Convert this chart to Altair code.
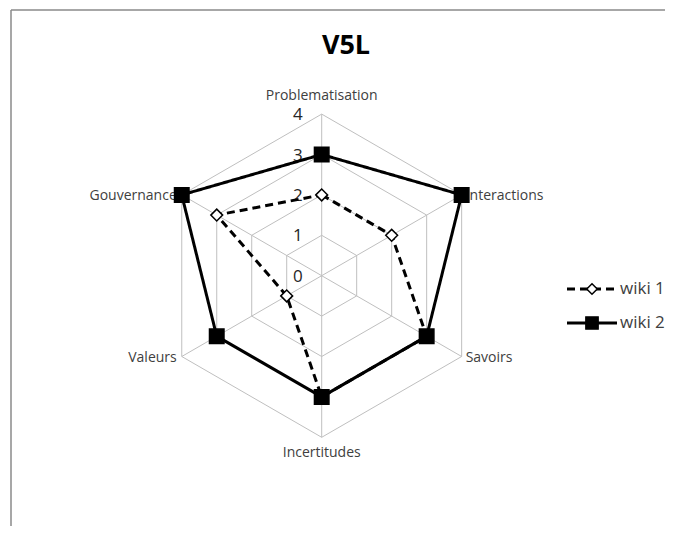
import math
import pandas as pd
import altair as alt

# ---------------- data ----------------
title_text = "V5L"
categories = ["Problematisation", "Interactions", "Savoirs",
              "Incertitudes", "Valeurs", "Gouvernance"]
series_names = ["wiki 1", "wiki 2"]
wiki1 = [2, 2, 3, 3, 1, 3]
wiki2 = [3, 4, 3, 3, 3, 4]
tick_levels = [0, 1, 2, 3, 4]
r_max = 4

# ---------------- geometry / style ----------------
W, H = 657, 518            # plot area (page offset 8px, padding 0)
CX, CY = 313.7, 267.7      # radar centre, in view pixels
UNIT = 40.4                # pixels per value unit
FONT = "Open Sans"
TXT = "#404040"
GRID = "#bfbfbf"

n = len(categories)
angles = [2 * math.pi * i / n for i in range(n)]

xs = alt.Scale(domain=[-CX / UNIT, (W - CX) / UNIT], nice=False, zero=False)
ys = alt.Scale(domain=[-(H - CY) / UNIT, CY / UNIT], nice=False, zero=False)


def X(field="x"):
    return alt.X(f"{field}:Q", scale=xs, axis=None)


def Y(field="y"):
    return alt.Y(f"{field}:Q", scale=ys, axis=None)


# grid rings
ring_rows = []
for lv in tick_levels[1:]:
    for i in range(n + 1):
        k = i % n
        ring_rows.append(dict(level=lv, order=i,
                              x=lv * math.sin(angles[k]), y=lv * math.cos(angles[k])))
rings = pd.DataFrame(ring_rows)

spokes = pd.DataFrame([dict(cat=c, x=0.0, y=0.0,
                            x2=r_max * math.sin(a), y2=r_max * math.cos(a))
                       for c, a in zip(categories, angles)])

ticks = pd.DataFrame(dict(label=[str(v) for v in tick_levels],
                          x=[0.0] * len(tick_levels), y=tick_levels))

lab = pd.DataFrame(dict(cat=categories,
                        x=[r_max * math.sin(a) for a in angles],
                        y=[r_max * math.cos(a) for a in angles],
                        s=[math.sin(a) for a in angles],
                        c=[math.cos(a) for a in angles]))

ring_layer = alt.Chart(rings).mark_line(color=GRID, strokeWidth=1).encode(
    x=X(), y=Y(), detail="level:N", order="order:Q")
spoke_layer = alt.Chart(spokes).mark_rule(color=GRID, strokeWidth=1).encode(
    x=X(), y=Y(), x2="x2:Q", y2="y2:Q")
tick_layer = alt.Chart(ticks).mark_text(
    align="right", baseline="middle", dx=-19, dy=1, font=FONT, fontSize=17, color="#262626"
).encode(x=X(), y=Y(), text="label:N")

lab_top = alt.Chart(lab[lab.c > 0.9]).mark_text(
    align="center", baseline="middle", dy=-18, font=FONT, fontSize=14, color=TXT
).encode(x=X(), y=Y(), text="cat:N")
lab_bot = alt.Chart(lab[lab.c < -0.9]).mark_text(
    align="center", baseline="middle", dy=16, font=FONT, fontSize=14, color=TXT
).encode(x=X(), y=Y(), text="cat:N")
lab_right = alt.Chart(lab[lab.s > 0.5]).mark_text(
    align="left", baseline="middle", dx=4, dy=1, font=FONT, fontSize=14, color=TXT
).encode(x=X(), y=Y(), text="cat:N")
lab_left = alt.Chart(lab[lab.s < -0.5]).mark_text(
    align="right", baseline="middle", dx=-5, dy=1, font=FONT, fontSize=14, color=TXT
).encode(x=X(), y=Y(), text="cat:N")

# series
styles = {
    "wiki 1": dict(dash=[8, 5], shape="diamond", fill="white", size=140, lsize=110),
    "wiki 2": dict(dash=[1, 0], shape="square", fill="black", size=210, lsize=150),
}

series_layers = []
point_layers = []
legend_layers = []
LEG_Y = [289 - 8, 323 - 8]
for idx, (name, vals) in enumerate(zip(series_names, [wiki1, wiki2])):
    st = styles[name]
    rows = []
    for i in range(n + 1):
        k = i % n
        rows.append(dict(series=name, cat=categories[k], order=i, value=vals[k],
                         x=vals[k] * math.sin(angles[k]), y=vals[k] * math.cos(angles[k])))
    df = pd.DataFrame(rows)
    series_layers.append(
        alt.Chart(df).mark_line(color="black", strokeWidth=3, strokeDash=st["dash"]).encode(
            x=X(), y=Y(), order="order:Q"))
    point_layers.append(
        alt.Chart(df.iloc[:n]).mark_point(shape=st["shape"], size=st["size"], filled=True,
                                          fill=st["fill"], stroke="black", strokeWidth=1.5,
                                          opacity=1).encode(x=X(), y=Y()))
    one = pd.DataFrame(dict(series=[name]))
    ly = LEG_Y[idx]
    legend_layers.append(
        alt.Chart(one).mark_rule(color="black", strokeWidth=3, strokeDash=st["dash"]).encode(
            x=alt.value(567 - 8), x2=alt.value(617 - 8), y=alt.value(ly)))
    legend_layers.append(
        alt.Chart(one).mark_point(shape=st["shape"], size=st["lsize"], filled=True,
                                  fill=st["fill"], stroke="black", strokeWidth=1.5,
                                  opacity=1).encode(x=alt.value(592 - 8), y=alt.value(ly)))
    legend_layers.append(
        alt.Chart(one).mark_text(align="left", baseline="middle", font=FONT, fontSize=17,
                                 color=TXT).encode(
            x=alt.value(620 - 8), y=alt.value(ly), text="series:N"))

one_row = pd.DataFrame(dict(t=[title_text]))
title_layer = alt.Chart(one_row).mark_text(
    align="center", baseline="middle", font=FONT, fontSize=27, fontWeight="bold", color="black"
).encode(x=alt.value(346 - 8), y=alt.value(46 - 8), text="t:N")

border_left = alt.Chart(one_row).mark_rule(color="#8a8a8a", strokeWidth=1.5).encode(
    x=alt.value(11 - 8), y=alt.value(10 - 8), y2=alt.value(H + 20))
border_top = alt.Chart(one_row).mark_rule(color="#8a8a8a", strokeWidth=1.5).encode(
    x=alt.value(11 - 8), x2=alt.value(W + 20), y=alt.value(10 - 8))

chart = alt.layer(
    border_left, border_top,
    ring_layer, spoke_layer, tick_layer,
    lab_top, lab_bot, lab_right, lab_left,
    *series_layers, *point_layers, *legend_layers, title_layer,
).properties(
    width=W, height=H, padding=0, autosize=alt.AutoSizeParams(type="none")
).configure_view(stroke=None)

chart.save("out.html", embed_options={"renderer": "svg", "actions": False})
